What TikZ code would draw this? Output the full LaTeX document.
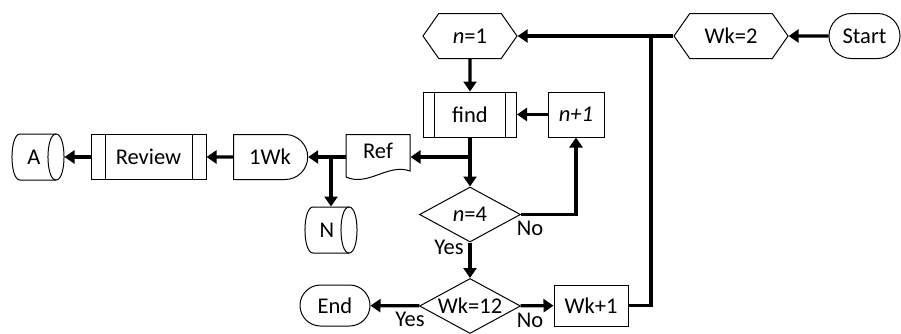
\documentclass[tikz,border=0pt]{standalone}
\usepackage{fontspec}
\setmainfont{Carlito}
\usetikzlibrary{arrows.meta}
\usetikzlibrary{shapes.geometric,shapes.misc,shapes.symbols}

\tikzset{
  box/.style={draw, line width=1pt, inner sep=0pt, minimum height=45pt, font=\fontsize{22.5}{27}\selectfont},
  term/.style={box, rounded rectangle},
  prep/.style={box, signal, signal to=west and east, signal pointer angle=110},
  predef/.style={box, path picture={
      \draw[line width=1pt] ([xshift=#1]path picture bounding box.north west) -- ([xshift=#1]path picture bounding box.south west);
      \draw[line width=1pt] ([xshift=-#1]path picture bounding box.north east) -- ([xshift=-#1]path picture bounding box.south east);}},
  predef/.default=12pt,
  delay/.style={box, rounded rectangle, rounded rectangle west arc=none},
  store/.style={box, draw=none, minimum width=52pt, minimum height=46pt},
  decide/.style={box, diamond, aspect=2, minimum width=101pt, minimum height=55pt},
  lbl/.style={inner sep=0pt, font=\fontsize{22.5}{27}\selectfont},
  flowline/.style={line width=3.3pt},
  flow/.style={flowline, -{Triangle[length=10pt,width=13pt]}}
}

\begin{document}
\begin{tikzpicture}[x=1pt, y=-1pt, line join=miter]
\useasboundingbox (0,0) rectangle (901,333);

\node[term, minimum width=71pt] (start) at (864.5,36) {Start};
\node[prep, minimum width=114pt] (wk2) at (731,36) {Wk=2};
\node[prep, minimum width=94pt] (n1) at (470,36) {\textit{n}=1};
\node[predef=11pt, minimum width=93pt] (find) at (470,114.5) {find};
\node[box, minimum width=56pt] (np1) at (576,114.5) {\textit{n+1}};
\node[box, draw=none, minimum width=64pt, text depth=13pt] (ref) at (378,157) {Ref};
\draw[line width=1pt, shift={(ref.center)}] (-32,-22.5) -- (32,-22.5) -- (32,14) .. controls (10,6) and (-10,30) .. (-32,20) -- cycle;
\node[delay, minimum width=74pt] (wkone) at (270,157) {1Wk};
\node[predef=14pt, minimum width=115pt] (review) at (148.5,157) {Review};
\node[store] (a) at (38,157) {\hspace*{-8pt}A};
\draw[line width=1pt, shift={(a.center)}] (18,-23) -- (-18,-23) .. controls (-28.7,-23) and (-28.7,23) .. (-18,23) -- (18,23);
\draw[line width=1pt, shift={(a.center)}] (18,-23) .. controls (28.7,-23) and (28.7,23) .. (18,23) .. controls (7.3,23) and (7.3,-23) .. (18,-23) -- cycle;
\node[store] (nstore) at (331,230) {\hspace*{-8pt}N};
\draw[line width=1pt, shift={(nstore.center)}] (18,-23) -- (-18,-23) .. controls (-28.7,-23) and (-28.7,23) .. (-18,23) -- (18,23);
\draw[line width=1pt, shift={(nstore.center)}] (18,-23) .. controls (28.7,-23) and (28.7,23) .. (18,23) .. controls (7.3,23) and (7.3,-23) .. (18,-23) -- cycle;
\node[decide] (n4) at (470,214.5) {\textit{n}=4};
\node[decide] (wk12) at (470,306) {Wk=12};
\node[term, minimum width=70pt, minimum height=41pt] (stop) at (335,305.5) {End};
\node[box, minimum width=74pt, minimum height=41pt] (wkp1) at (591,305.5) {Wk+1};

\coordinate (split1) at (651,36);
\coordinate (split2) at (find.south |- ref.east);
\coordinate (split3) at (nstore.north |- ref.west);

\draw[flow] (start) -- (wk2);
\draw[flow] (wk2.west) -- (n1.east);
\draw[flow] (n1) -- (find);
\draw[flow] (find) -- (n4);
\draw[flow] (split2) -- (ref.east);
\draw[flow] (ref.west) -- (wkone.east);
\draw[flow] (split3) -- (nstore.north);
\draw[flow] (wkone) -- (review);
\draw[flow] (review) -- (a);
\draw[flow] (np1) -- (find);
\draw[flow] (n4.east) -| (np1.south);
\draw[flow] (n4) -- (wk12);
\draw[flow] (wk12) -- (stop);
\draw[flow] (wk12) -- (wkp1);
\draw[flowline] (wkp1.east) -| (split1);

\node[lbl] (n4no) at (530,228) {No};
\node[lbl] (n4yes) at (449,247) {Yes};
\node[lbl] (wk12yes) at (410,319) {Yes};
\node[lbl] (wk12no) at (530,320) {No};
\end{tikzpicture}
\end{document}
